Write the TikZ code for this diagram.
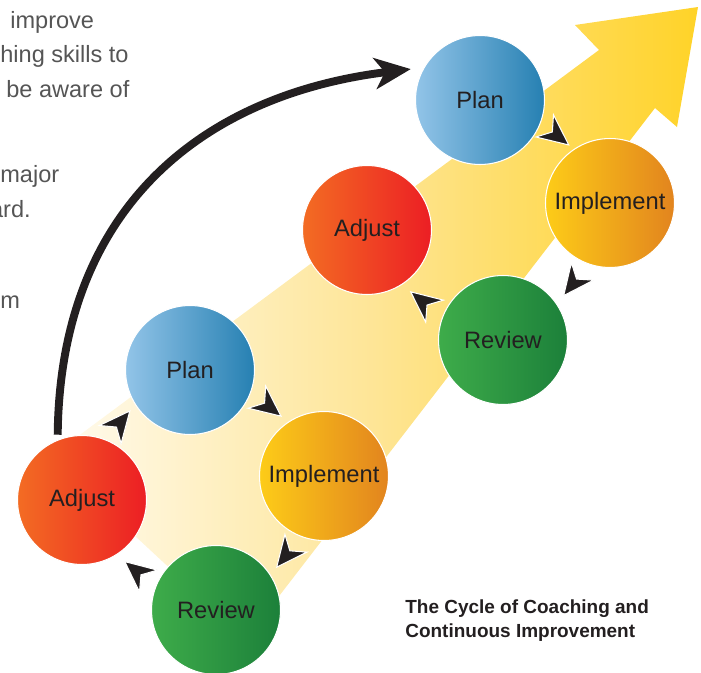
\documentclass[tikz,border=0pt]{standalone}
\usepackage{fontspec}
\setmainfont{Liberation Sans}
\usetikzlibrary{arrows.meta,decorations.markings}

\definecolor{inkblack}{RGB}{35,31,32}
\definecolor{bodygray}{RGB}{85,85,85}
\definecolor{planlight}{RGB}{146,196,232}
\definecolor{plandark}{RGB}{38,128,178}
\definecolor{impllight}{RGB}{253,204,24}
\definecolor{impldark}{RGB}{226,132,30}
\definecolor{adjlight}{RGB}{243,108,35}
\definecolor{adjdark}{RGB}{236,30,36}
\definecolor{revlight}{RGB}{62,172,74}
\definecolor{revdark}{RGB}{28,128,58}
\definecolor{bandlight}{RGB}{255,251,240}
\definecolor{bandmid}{RGB}{254,229,150}
\definecolor{bandgold}{RGB}{255,211,40}

\tikzset{
    stage/.style={circle, minimum size=2.58cm, draw=white, line width=0.6pt,
        text=inkblack, font=\fontsize{13.5}{16}\selectfont},
    planstage/.style={stage, left color=planlight, right color=plandark},
    implstage/.style={stage, left color=impllight, right color=impldark},
    adjstage/.style={stage, left color=adjlight, right color=adjdark},
    revstage/.style={stage, left color=revlight, right color=revdark},
    cyc/.style={postaction={decorate}, decoration={markings,
        mark=at position 0.5 with {\pgftransformxshift{9pt}
            \arrow[line width=0.6pt]{Stealth[length=19pt, width=17.5pt, inset=6pt, color=white, fill=inkblack]}}}},
    looparrow/.style={line width=4.5pt, inkblack,
        -{Stealth[length=0.72cm, width=0.62cm, inset=0.2cm]},
        shorten <=0.1cm, shorten >=0.26cm},
    bodytext/.style={anchor=base west, inner sep=0pt, text=bodygray,
        font=\fontsize{13.4}{16}\selectfont},
    captext/.style={anchor=north west, inner sep=0pt, align=left, text=inkblack,
        font=\bfseries\fontsize{10.8}{13.8}\selectfont}
}

\begin{document}
\begin{tikzpicture}[x=0.02cm, y=0.02cm]
    \useasboundingbox (0,0) rectangle (701,-673);

    % Wide arrow in the back
    \shade[left color=bandlight, right color=bandgold, middle color=bandmid]
        (50,-457) -- (599,-50) -- (575,-25) -- (698,-7) -- (677,-127)
        -- (655,-108) -- (246,-639) -- cycle;

    % Draw nodes
    \node[planstage] (plan2) at (480,-100) {Plan};
    \node[implstage] (impl2) at (610,-203) {Implement};
    \node[adjstage] (adj2) at (367,-230) {Adjust};
    \node[revstage] (rev2) at (503,-340) {Review};
    \node[planstage] (plan1) at (190,-370) {Plan};
    \node[implstage] (impl1) at (324,-476) {Implement};
    \node[adjstage] (adj1) at (82,-500) {Adjust};
    \node[revstage] (rev1) at (216,-610) {Review};

    % Big loop arrow
    \draw[looparrow] (adj1.112) .. controls (60,-210) and (200,-95) .. (plan2.150);

    % Cycle arrows
    \path[cyc] (adj1) to[bend left=15] (plan1);
    \path[cyc] (plan1) to[bend left=15] (impl1);
    \path[cyc] (impl1) to[bend left=15] (rev1);
    \path[cyc] (rev1) to[bend left=15] (adj1);
    \path[cyc] (plan2) to[bend left=15] (impl2);
    \path[cyc] (impl2) to[bend left=15] (rev2);
    \path[cyc] (rev2) to[bend left=15] (adj2);

    % Text
    \node[bodytext] (line1) at (10,-28) {improve};
    \node[bodytext] (line2) at (0,-62) {hing skills to};
    \node[bodytext] (line3) at (6,-97) {be aware of};
    \node[bodytext] (line4) at (0,-182) {major};
    \node[bodytext, anchor=base east] (line5) at (31,-217) {ard.};
    \node[bodytext] (line6) at (0,-308) {m};
    \node[captext] (title) at (405,-599) {The Cycle of Coaching and\\Continuous Improvement};
\end{tikzpicture}
\end{document}
